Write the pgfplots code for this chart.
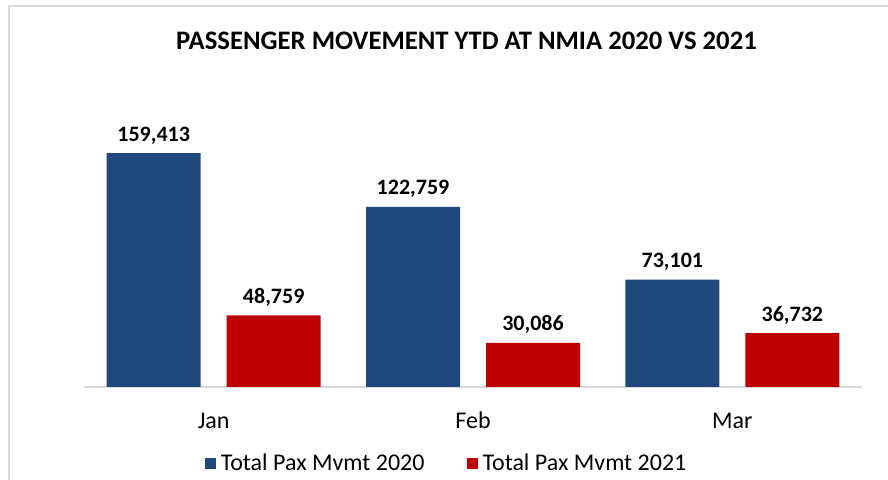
\documentclass[border=0pt]{standalone}
\usepackage{pgfplots}
\pgfplotsset{compat=1.18}
\usepackage{fontspec}
\setmainfont{Carlito}
\definecolor{barblue}{HTML}{1F497D}
\definecolor{barred}{HTML}{C00000}
\definecolor{linegray}{HTML}{D9D9D9}
\pgfplotsset{sqlegend/.style={legend image code/.code={\fill[##1,draw=none] (-4bp,-5.5bp) rectangle (7bp,5.5bp);}}}
\begin{document}
\begin{tikzpicture}[x=1bp,y=1bp]
\path[use as bounding box] (0,0) rectangle (888,480);
\draw[linegray,line width=2bp] (9,-10) -- (9,474) -- (900,474);
\node[anchor=base,font=\fontsize{26.7bp}{30bp}\selectfont\bfseries] at (466.5,430.5) {PASSENGER MOVEMENT YTD AT NMIA 2020 VS 2021};
\begin{axis}[
  at={(84bp,93bp)}, anchor=south west,
  scale only axis, width=778bp, height=264.2bp,
  xmin=-0.5, xmax=2.5, ymin=0, ymax=180000,
  axis x line=bottom, axis y line=none,
  x axis line style={draw=linegray,line width=1.5bp,-},
  xtick={0,1,2}, xticklabels={Jan,Feb,Mar},
  xtick style={draw=none},
  xticklabel style={anchor=base,yshift=-39bp,font=\fontsize{24bp}{28bp}\selectfont},
  ytick=\empty,
  /pgf/number format/assume math mode=true,
  /pgf/number format/.cd, fixed, precision=0, 1000 sep={,}, /pgfplots/.cd,
  nodes near coords,
  every node near coord/.append style={anchor=base,yshift=12bp,font=\fontsize{22bp}{25bp}\selectfont\bfseries},
  bar width=94bp,
  legend columns=2,
  legend style={at={(0.466,-0.288)},anchor=center,draw=none,fill=none,
    font=\fontsize{24bp}{28bp}\selectfont,
    /tikz/every odd column/.append style={column sep=3bp},
    /tikz/every even column/.append style={column sep=40bp}},
]
\addplot[ybar,bar shift=-60bp,fill=barblue,draw=none,sqlegend,
  every node near coord/.append style={xshift=-60bp}] coordinates {(0,159413) (1,122759) (2,73101)};
\addlegendentry{Total Pax Mvmt 2020}
\addplot[ybar,bar shift=60bp,fill=barred,draw=none,sqlegend,
  every node near coord/.append style={xshift=60bp}] coordinates {(0,48759) (1,30086) (2,36732)};
\addlegendentry{Total Pax Mvmt 2021}
\end{axis}
\end{tikzpicture}
\end{document}
